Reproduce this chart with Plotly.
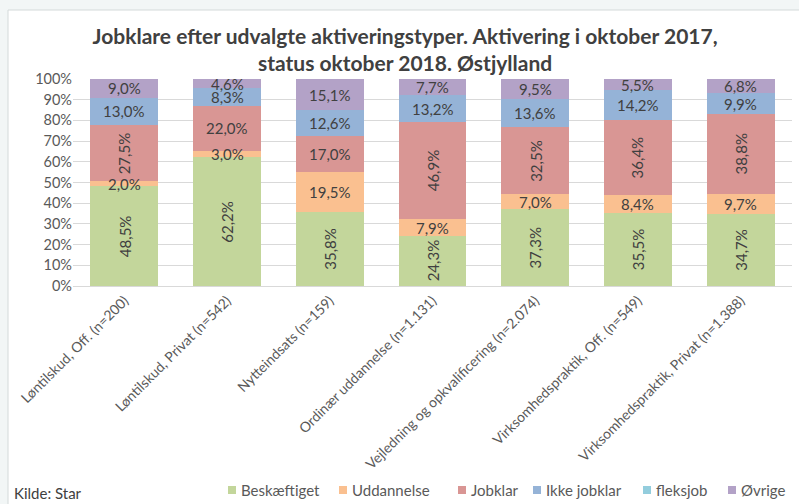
"""
Stacked status chart for selected activation types.

Provides a 100% stacked bar chart showing:
- Status one year after activation, per activation type
- Percent labels inside each segment
- Legend below the category labels
"""

import plotly.graph_objects as go

CATEGORIES = [
    "Løntilskud, Off. (n=200)",
    "Løntilskud, Privat (n=542)",
    "Nytteindsats (n=159)",
    "Ordinær uddannelse (n=1.131)",
    "Vejledning og opkvalificering (n=2.074)",
    "Virksomhedspraktik, Off. (n=549)",
    "Virksomhedspraktik, Privat (n=1.388)",
]

SERIES_NAMES = ["Beskæftiget", "Uddannelse", "Jobklar", "Ikke jobklar", "fleksjob", "Øvrige"]

BESKAEFTIGET = [48.5, 62.2, 35.8, 24.3, 37.3, 35.5, 34.7]
UDDANNELSE = [2.0, 3.0, 19.5, 7.9, 7.0, 8.4, 9.7]
JOBKLAR = [27.5, 22.0, 17.0, 46.9, 32.5, 36.4, 38.8]
IKKE_JOBKLAR = [13.0, 8.3, 12.6, 13.2, 13.6, 14.2, 9.9]
FLEKSJOB = [0.0, 0.0, 0.0, 0.0, 0.0, 0.0, 0.0]
OVRIGE = [9.0, 4.6, 15.1, 7.7, 9.5, 5.5, 6.8]

# Which labels are turned on their side (per series, per category)
ROTATED = {
    "Beskæftiget": [True] * 7,
    "Jobklar": [True, False, False, True, True, True, True],
}

COLORS = {
    "Beskæftiget": "#C3D69B",
    "Uddannelse": "#FAC090",
    "Jobklar": "#D99694",
    "Ikke jobklar": "#95B3D7",
    "fleksjob": "#93CDDD",
    "Øvrige": "#B3A2C7",
}

FONT = "Lato"

# Plot area in pixels (left, right, top, bottom) and legend key positions
PLOT_BOX = (73, 792, 79, 286)
LEGEND_KEYS_PX = [228, 339, 458, 533, 643, 728]
LEGEND_Y_PX = 490


def px_x(px: float) -> float:
    """Convert a horizontal pixel position to paper coordinates."""
    left, right, _, _ = PLOT_BOX
    return (px - left) / (right - left)


def px_y(px: float) -> float:
    """Convert a vertical pixel position to paper coordinates."""
    _, _, top, bottom = PLOT_BOX
    return (bottom - px) / (bottom - top)


def add_segment_labels(fig: go.Figure, series: dict) -> None:
    """
    Put a percent label in the middle of every non-empty segment.

    Args:
        fig: Plotly figure to add labels to
        series: Mapping of series name to values
    """
    base = [0.0] * len(CATEGORIES)
    for name, values in series.items():
        flags = ROTATED.get(name, [False] * len(CATEGORIES))
        for i, v in enumerate(values):
            if v > 0:
                fig.add_annotation(
                    x=CATEGORIES[i],
                    y=base[i] + v / 2,
                    text=f"{v:.1f}%".replace(".", ","),
                    textangle=-90 if flags[i] else 0,
                    showarrow=False,
                    font=dict(family=FONT, size=15, color="#404040"),
                )
            base[i] += v


def add_legend(fig: go.Figure) -> None:
    """
    Draw a compact legend row (small square key + name) under the chart.

    Args:
        fig: Plotly figure to add the legend to
    """
    for name, key_px in zip(SERIES_NAMES, LEGEND_KEYS_PX):
        fig.add_shape(
            type="rect", xref="paper", yref="paper",
            x0=px_x(key_px), x1=px_x(key_px + 8),
            y0=px_y(LEGEND_Y_PX + 4), y1=px_y(LEGEND_Y_PX - 4),
            fillcolor=COLORS[name], line=dict(width=0)
        )
        fig.add_annotation(
            text=name, xref="paper", yref="paper",
            x=px_x(key_px + 11), y=px_y(LEGEND_Y_PX),
            xanchor="left", yanchor="middle", showarrow=False,
            font=dict(family=FONT, size=15, color="#595959")
        )


def build_chart() -> go.Figure:
    """
    Create the stacked bar chart.

    Returns:
        Plotly Figure object
    """
    series = dict(zip(SERIES_NAMES, [BESKAEFTIGET, UDDANNELSE, JOBKLAR, IKKE_JOBKLAR, FLEKSJOB, OVRIGE]))

    fig = go.Figure()

    for name, values in series.items():
        fig.add_trace(go.Bar(
            x=CATEGORIES,
            y=values,
            name=name,
            marker=dict(color=COLORS[name], line=dict(width=0)),
            hoverinfo='x+y+name'
        ))

    add_segment_labels(fig, series)
    add_legend(fig)

    # White card on a pale page background
    fig.add_shape(
        type="rect", xref="paper", yref="paper",
        x0=px_x(8), x1=px_x(805), y0=px_y(510), y1=px_y(10),
        fillcolor="white", line=dict(color="#D4DADA", width=1), layer="below"
    )

    fig.add_annotation(
        text="Kilde: Star", xref="paper", yref="paper",
        x=px_x(12), y=px_y(493), xanchor="left", yanchor="middle", showarrow=False,
        font=dict(family=FONT, size=15, color="#404040")
    )

    # Update layout
    fig.update_layout(
        title=dict(
            text="Jobklare efter udvalgte aktiveringstyper. Aktivering i oktober 2017,<br>status oktober 2018. Østjylland",
            x=0.507, xanchor="center", y=0.913, yanchor="middle",
            font=dict(family=FONT, size=21, color="#404040", weight="bold")
        ),
        barmode="stack",
        bargap=0.34,
        width=799,
        height=504,
        margin=dict(l=PLOT_BOX[0], r=799 - PLOT_BOX[1], t=PLOT_BOX[2], b=504 - PLOT_BOX[3]),
        paper_bgcolor="#F2F6F6",
        plot_bgcolor="white",
        font=dict(family=FONT, size=14, color="#595959"),
        showlegend=False,
        xaxis=dict(
            tickangle=-45,
            showline=True,
            linecolor="#D9D9D9",
            ticks="",
            automargin=False,
            tickfont=dict(family=FONT, size=14, color="#595959")
        ),
        yaxis=dict(
            range=[0, 100],
            dtick=10,
            ticksuffix="%",
            showgrid=True,
            gridcolor="#D9D9D9",
            zeroline=False,
            automargin=False,
            tickfont=dict(family=FONT, size=14.5, color="#595959")
        )
    )

    return fig


fig = build_chart()
fig.write_html(
    "out.html",
    config={'displayModeBar': False},
    post_script="document.body.style.margin = '0';"
)
